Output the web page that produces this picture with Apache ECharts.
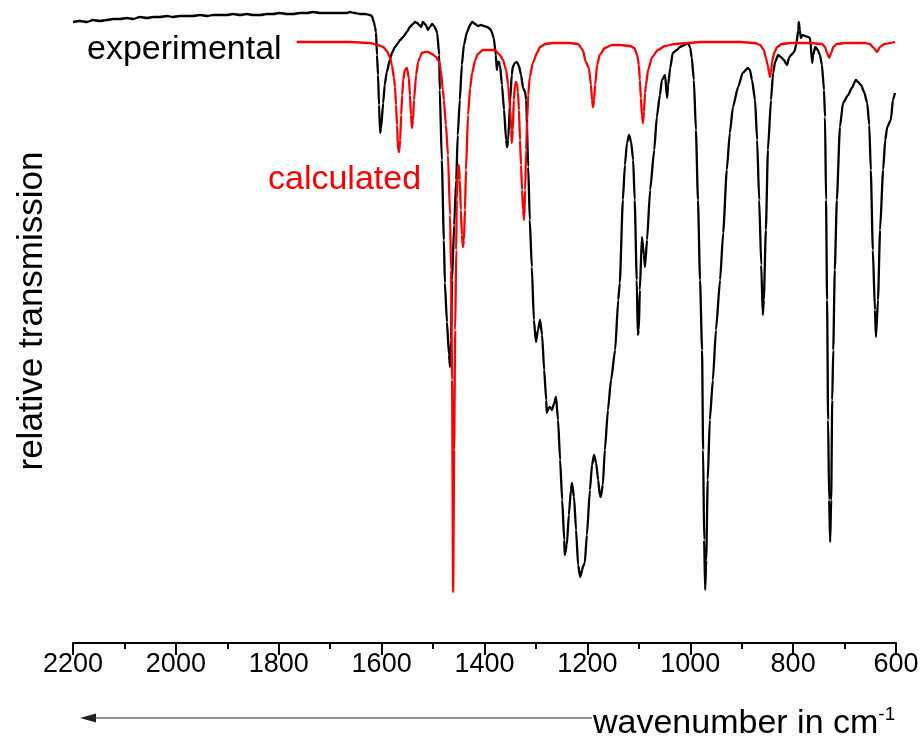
<!DOCTYPE html>
<html>
<head>
<meta charset="utf-8">
<script src="https://cdn.jsdelivr.net/npm/echarts@6/dist/echarts.min.js"></script>
<style>
html,body{margin:0;padding:0;background:#fff;}
#chart{width:922px;height:740px;}
</style>
</head>
<body>
<div id="chart"></div>
<script>
// Experimental IR spectrum (wavenumber in cm-1, relative transmission in arbitrary units)
var expWavenumber = [2200,2186,2173,2161,2148,2134,2122,2109,2095,2083,2070,2056,2044,2031,2017,2006,1992,1978,1967,1953,1939,1928,1914,1901,1889,1875,1862,1850,1836,1823,1811,1798,1784,1772,1759,1745,1733,1720,1706,1695,1681,1667,1662,1652,1642,1632,1623,1619,1615,1613,1611,1609,1607,1605,1603,1601,1597,1594,1590,1584,1580,1574,1568,1564,1558,1551,1545,1539,1535,1531,1527,1523,1520,1514,1510,1506,1502,1498,1494,1492,1488,1487,1483,1479,1477,1473,1469,1467,1465,1463,1459,1455,1452,1448,1444,1440,1434,1428,1424,1418,1413,1407,1401,1395,1389,1386,1382,1378,1376,1374,1372,1370,1366,1362,1358,1356,1354,1350,1347,1345,1341,1337,1333,1329,1325,1321,1319,1315,1312,1308,1304,1300,1296,1292,1288,1284,1280,1279,1275,1273,1269,1265,1261,1257,1253,1249,1245,1244,1240,1236,1232,1230,1226,1222,1218,1214,1210,1209,1205,1201,1195,1191,1187,1183,1179,1176,1174,1170,1166,1160,1154,1146,1140,1137,1131,1127,1123,1119,1115,1111,1108,1104,1102,1100,1098,1094,1090,1088,1084,1078,1070,1065,1059,1055,1049,1045,1043,1039,1034,1026,1020,1012,1004,1000,997,993,989,985,981,977,975,973,971,969,966,962,956,950,942,936,929,923,917,907,898,888,884,880,874,870,866,862,859,857,853,849,843,839,835,829,824,818,812,808,804,798,794,790,789,787,785,781,777,771,767,763,761,757,752,748,744,740,738,736,734,732,730,728,726,724,722,719,715,709,703,693,686,678,674,668,662,656,652,649,645,641,639,635,631,625,621,617,610,606,602];
var expTransmission = [123.6,123.8,123.6,124,123.8,124,124.2,124.2,124.4,124.2,124.6,124.4,124.6,124.6,124.8,124.6,124.8,124.8,124.8,125,124.8,125,125,125,125.2,125,125.2,125,125,125.2,125.2,125.4,125.2,125.2,125.4,125.4,125.6,125.4,125.4,125.4,125.4,125.4,125.6,125.4,125.2,125.2,125,124.8,123.6,122.6,121.6,117,113,107,101.4,102.4,107.4,111,113.6,116,117.4,118.6,119.4,120,120.6,121.6,122.6,123.2,123.6,123.4,123,122.6,123.6,123,122,122.6,123.2,122.8,122,121.4,117,110,96,80,71.4,63.6,57,54.6,60,72,83,92,101,108,115,119,121.6,123,123.6,123.2,122.8,123,122.8,122.6,122.2,121.6,120.4,117,114,115.6,115.6,115,111,106,100,98.6,100,108,113,114.6,115.4,115.6,114.8,113,110.4,109.6,108,94.6,84,74.6,64,59.6,62,64,61,54,48,45.4,46.4,46.6,46,47.2,48.6,44,36,28,20,17,19,25,30,31.4,28.6,22,15,12.6,14,14.6,15.4,21,30,35,37,35.4,32,29,28.6,31,38,46,52,58,68,71.4,88,95,99.4,101,99.6,96,88,72,61,62,70,80.6,77,74.6,80,90,98,104.6,109,112,113,108.4,111,114.4,117.4,118,118.6,119,119.4,118.4,116.4,112,102,88,72,58,38,20,10,16,32,44,52,62,72,81.4,94,101.4,106.6,110.6,113.4,114.4,114,112,108,100,88,75,65,68,82,98,108,113.4,115.6,117,116.6,116,115,116.4,117,117.6,119,122,123.6,122,120.4,121,120.8,120.6,120.4,115.4,117,118.6,118,117,115,110,104.6,88,68,44,28,19.6,28,48,58,74,88,102.6,107.4,109,110.4,112,111.6,111,109.6,107.4,103,94,78,66,60.6,68,82,94,100,102.6,104,108,109.4];

// Calculated IR spectrum
var calcWavenumber = [1765,1720,1662,1623,1607,1597,1590,1584,1580,1576,1574,1572,1570,1568,1566,1564,1562,1560,1558,1555,1551,1547,1545,1543,1541,1539,1537,1533,1529,1525,1522,1516,1510,1502,1494,1488,1485,1481,1479,1475,1471,1467,1465,1463,1461,1459,1457,1455,1454,1452,1450,1448,1446,1444,1442,1440,1438,1436,1432,1428,1424,1418,1413,1403,1389,1380,1370,1364,1358,1354,1350,1348,1347,1345,1343,1341,1339,1337,1335,1333,1331,1329,1327,1325,1323,1321,1319,1317,1315,1312,1306,1298,1292,1282,1267,1253,1234,1218,1209,1203,1197,1193,1191,1189,1187,1185,1181,1176,1166,1152,1137,1117,1109,1103,1100,1098,1096,1094,1092,1090,1088,1086,1082,1074,1063,1049,1030,1004,981,903,874,864,857,853,849,847,845,843,841,837,831,822,806,767,744,738,734,730,726,722,715,699,660,651,643,637,631,623,602];
var calcTransmission = [119.6,119.6,119.6,119.4,119,118.6,117.8,116.6,115,112.4,110.6,107,103,98,97.6,100,105,109,112,114,114.4,112.4,109,105,102.4,104,108,113,115.6,116.6,117.4,117.6,117.6,117.2,116.6,115.6,114,110,108,103,97,85,74,52,9.6,38,62,78,88,93.6,95,92,86,81,78.6,80,86,94,105,110.4,113.4,116,117.2,118,118,118,117,116,114,111,106,102,99.4,102,108,110.8,111.6,111.2,109.6,106,100,95,90,86,84,90,98,104,109,112.6,115.4,117.4,118.6,119.2,119.4,119.4,119.4,119.2,118,115.6,114.4,111,108,106.6,108,111,115,117,118.4,119,119,118.8,118.4,117,115,112,108.4,105,103.4,105.6,109.4,111,114,116.6,118,118.8,119.2,119.4,119.6,119.6,119.4,119,118,116.4,114.8,113.6,112.6,113.6,115.6,117.4,118.6,119.2,119.4,119.4,119.2,118.6,117.4,116.4,117.4,118.6,119.2,119.4,119.4,119.2,118.4,117.6,118.6,119.2,119.6];

var xTicks = [2200,2000,1800,1600,1400,1200,1000,800,600];

function zip(a, b) { return a.map(function (v, i) { return [v, b[i]]; }); }

var FONT = "'Liberation Sans', Arial, Helvetica, sans-serif";
var NARROW = "'Liberation Sans Narrow', 'Arial Narrow', 'Liberation Sans', Arial, sans-serif";
var chart = echarts.init(document.getElementById('chart'), null, {renderer: 'canvas'});

chart.setOption({
  backgroundColor: '#ffffff',
  animation: false,
  grid: {left: 73, right: 26, top: 0, bottom: 100, containLabel: false},
  xAxis: {
    type: 'value',
    inverse: true,
    min: xTicks[xTicks.length - 1],
    max: xTicks[0],
    interval: 200,
    offset: 3,
    axisLine: {show: true, onZero: false, lineStyle: {color: '#000', width: 2}},
    axisTick: {show: true, inside: false, length: 12, lineStyle: {color: '#000', width: 2}},
    minorTick: {show: true, splitNumber: 2, length: 6, lineStyle: {color: '#000', width: 2}},
    splitLine: {show: false},
    axisLabel: {color: '#000', fontSize: 27, fontFamily: NARROW, margin: 8,
      formatter: function (v) { return String(v); }}
  },
  yAxis: {
    type: 'value',
    min: 0,
    max: 128,
    show: false,
    splitLine: {show: false}
  },
  series: [
    {
      name: 'experimental',
      type: 'line',
      data: zip(expWavenumber, expTransmission),
      showSymbol: false,
      smooth: 0.2,
      smoothMonotone: 'x',
      clip: false,
      lineStyle: {color: '#000000', width: 2.3},
      z: 2
    },
    {
      name: 'calculated',
      type: 'line',
      data: zip(calcWavenumber, calcTransmission),
      showSymbol: false,
      smooth: 0.2,
      smoothMonotone: 'x',
      clip: false,
      lineStyle: {color: '#ff0000', width: 2.3},
      z: 3
    }
  ],
  graphic: [
    {type: 'text', left: 87, top: 33, style: {text: 'experimental', font: '34px ' + FONT, fill: '#000'}},
    {type: 'text', left: 268, top: 163, style: {text: 'calculated', font: '34px ' + FONT, fill: '#ff0000'}},
    {type: 'text', x: 32, y: 311, rotation: Math.PI / 2,
      style: {text: 'relative transmission', font: '35px ' + FONT, fill: '#000', align: 'center', verticalAlign: 'middle'}},
    {type: 'line', shape: {x1: 92, y1: 718, x2: 592, y2: 718}, style: {stroke: '#222', lineWidth: 1.2}},
    {type: 'polygon', shape: {points: [[80, 718], [96, 713.5], [96, 722.5]]}, style: {fill: '#222'}},
    {type: 'text', x: 593, y: 705,
      style: {
        text: '{a|wavenumber in cm}{b|-1}',
        align: 'left', verticalAlign: 'top',
        rich: {
          a: {fontSize: 34, fontFamily: FONT, fill: '#000', lineHeight: 36, verticalAlign: 'bottom'},
          b: {fontSize: 19, fontFamily: FONT, fill: '#000', lineHeight: 19, verticalAlign: 'top'}
        }
      }
    }
  ]
});
</script>
</body>
</html>
